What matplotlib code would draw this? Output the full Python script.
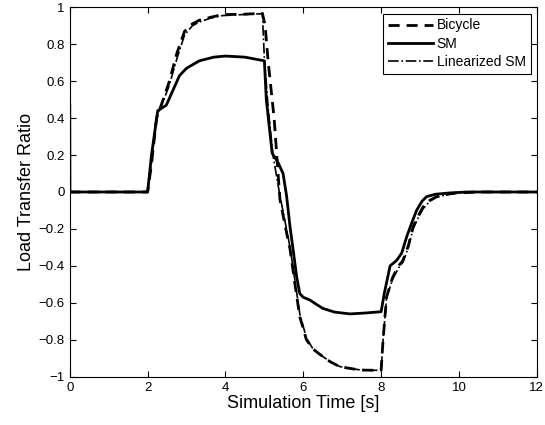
import matplotlib.pyplot as plt

plt.rcParams['font.family'] = ['Liberation Sans', 'DejaVu Sans']

# Bicycle model
t_bic = [0, 2.0, 2.1, 2.23, 2.4, 2.56, 2.75, 2.95, 3.15, 3.33, 3.6, 3.92, 4.4, 4.95, 5.02, 5.1, 5.25,
         5.4, 5.55, 5.66, 5.8, 5.91, 6.08, 6.25, 6.43, 6.7, 6.94, 7.2, 7.46, 7.8, 8.0, 8.05, 8.14,
         8.3, 8.45, 8.56, 8.7, 8.82, 8.95, 9.08, 9.25, 9.43, 9.7, 9.94, 10.5, 12]
v_bic = [0, 0, 0.15, 0.40, 0.50, 0.60, 0.75, 0.87, 0.91, 0.93, 0.945, 0.96, 0.962, 0.967, 0.90, 0.70, 0.40,
         -0.04, -0.20, -0.31, -0.52, -0.675, -0.80, -0.85, -0.88, -0.92, -0.946, -0.955, -0.964, -0.965, -0.965, -0.80, -0.567,
         -0.46, -0.40, -0.37, -0.29, -0.19, -0.13, -0.08, -0.045, -0.025, -0.012, -0.005, 0, 0]

# Single-track model
t_sm = [0, 0.005, 2.0, 2.1, 2.26, 2.48, 2.65, 2.82, 3.0, 3.33, 3.7, 4.0, 4.5, 5.0, 5.05, 5.2, 5.35, 5.48,
        5.57, 5.66, 5.75, 5.83, 5.91, 6.0, 6.17, 6.35, 6.5, 6.8, 7.2, 7.6, 8.0, 8.08, 8.23, 8.4,
        8.53, 8.66, 8.8, 8.91, 9.05, 9.17, 9.4, 9.77, 10.2, 12]
v_sm = [0.47, 0, 0, 0.20, 0.44, 0.47, 0.55, 0.63, 0.67, 0.71, 0.73, 0.736, 0.73, 0.71, 0.50, 0.21, 0.16, 0.10,
        -0.02, -0.19, -0.33, -0.46, -0.55, -0.57, -0.585, -0.61, -0.63, -0.65, -0.66, -0.655, -0.648, -0.55, -0.40, -0.37,
        -0.33, -0.24, -0.16, -0.10, -0.05, -0.025, -0.012, -0.005, 0, 0]

# Linearized single-track model
t_lin = [0, 2.0, 2.1, 2.23, 2.4, 2.56, 2.75, 2.95, 3.15, 3.33, 3.6, 3.92, 4.4, 4.95, 5.0, 5.1, 5.22,
         5.4, 5.55, 5.66, 5.8, 5.91, 6.08, 6.25, 6.43, 6.7, 6.94, 7.2, 7.46, 7.8, 8.0, 8.05, 8.14,
         8.3, 8.45, 8.56, 8.7, 8.82, 8.95, 9.08, 9.25, 9.43, 9.7, 9.94, 10.5, 12]
v_lin = [0, 0, 0.16, 0.41, 0.49, 0.58, 0.72, 0.85, 0.90, 0.92, 0.94, 0.955, 0.96, 0.965, 0.72, 0.45, 0.20,
         -0.02, -0.18, -0.30, -0.50, -0.66, -0.79, -0.85, -0.88, -0.92, -0.945, -0.955, -0.963, -0.965, -0.965, -0.80, -0.57,
         -0.47, -0.41, -0.38, -0.30, -0.20, -0.14, -0.09, -0.05, -0.028, -0.014, -0.006, 0, 0]

fig = plt.figure(figsize=(5.45, 4.25), dpi=100)
ax = fig.add_axes([0.128, 0.1136, 0.857, 0.8693])

ax.plot(t_bic, v_bic, 'k--', lw=2, dashes=(4, 2.5), label='Bicycle')
ax.plot(t_sm, v_sm, 'k-', lw=2, label='SM')
ax.plot(t_lin, v_lin, 'k-.', lw=1.2, label='Linearized SM')

ax.set_xlim(0, 12)
ax.set_ylim(-1, 1)
ax.set_xticks(range(0, 13, 2))
yt = [-1, -0.8, -0.6, -0.4, -0.2, 0, 0.2, 0.4, 0.6, 0.8, 1]
ax.set_yticks(yt)
ax.set_yticklabels(['\u22121', '\u22120.8', '\u22120.6', '\u22120.4', '\u22120.2', '0',
                    '0.2', '0.4', '0.6', '0.8', '1'])
ax.tick_params(direction='in', top=True, right=True, labelsize=9.5, length=4)
for s in ax.spines.values():
    s.set_linewidth(0.8)

ax.set_xlabel('Simulation Time [s]', fontsize=13, labelpad=1)
ax.set_ylabel('Load Transfer Ratio', fontsize=13, labelpad=3)

leg = ax.legend(loc='upper right', fontsize=10, fancybox=False, framealpha=1,
                edgecolor='black', borderaxespad=0.45, handlelength=3.2,
                labelspacing=0.3, borderpad=0.35, handletextpad=0.3)
leg.get_frame().set_linewidth(0.8)

fig.savefig('out.png', dpi=100)
